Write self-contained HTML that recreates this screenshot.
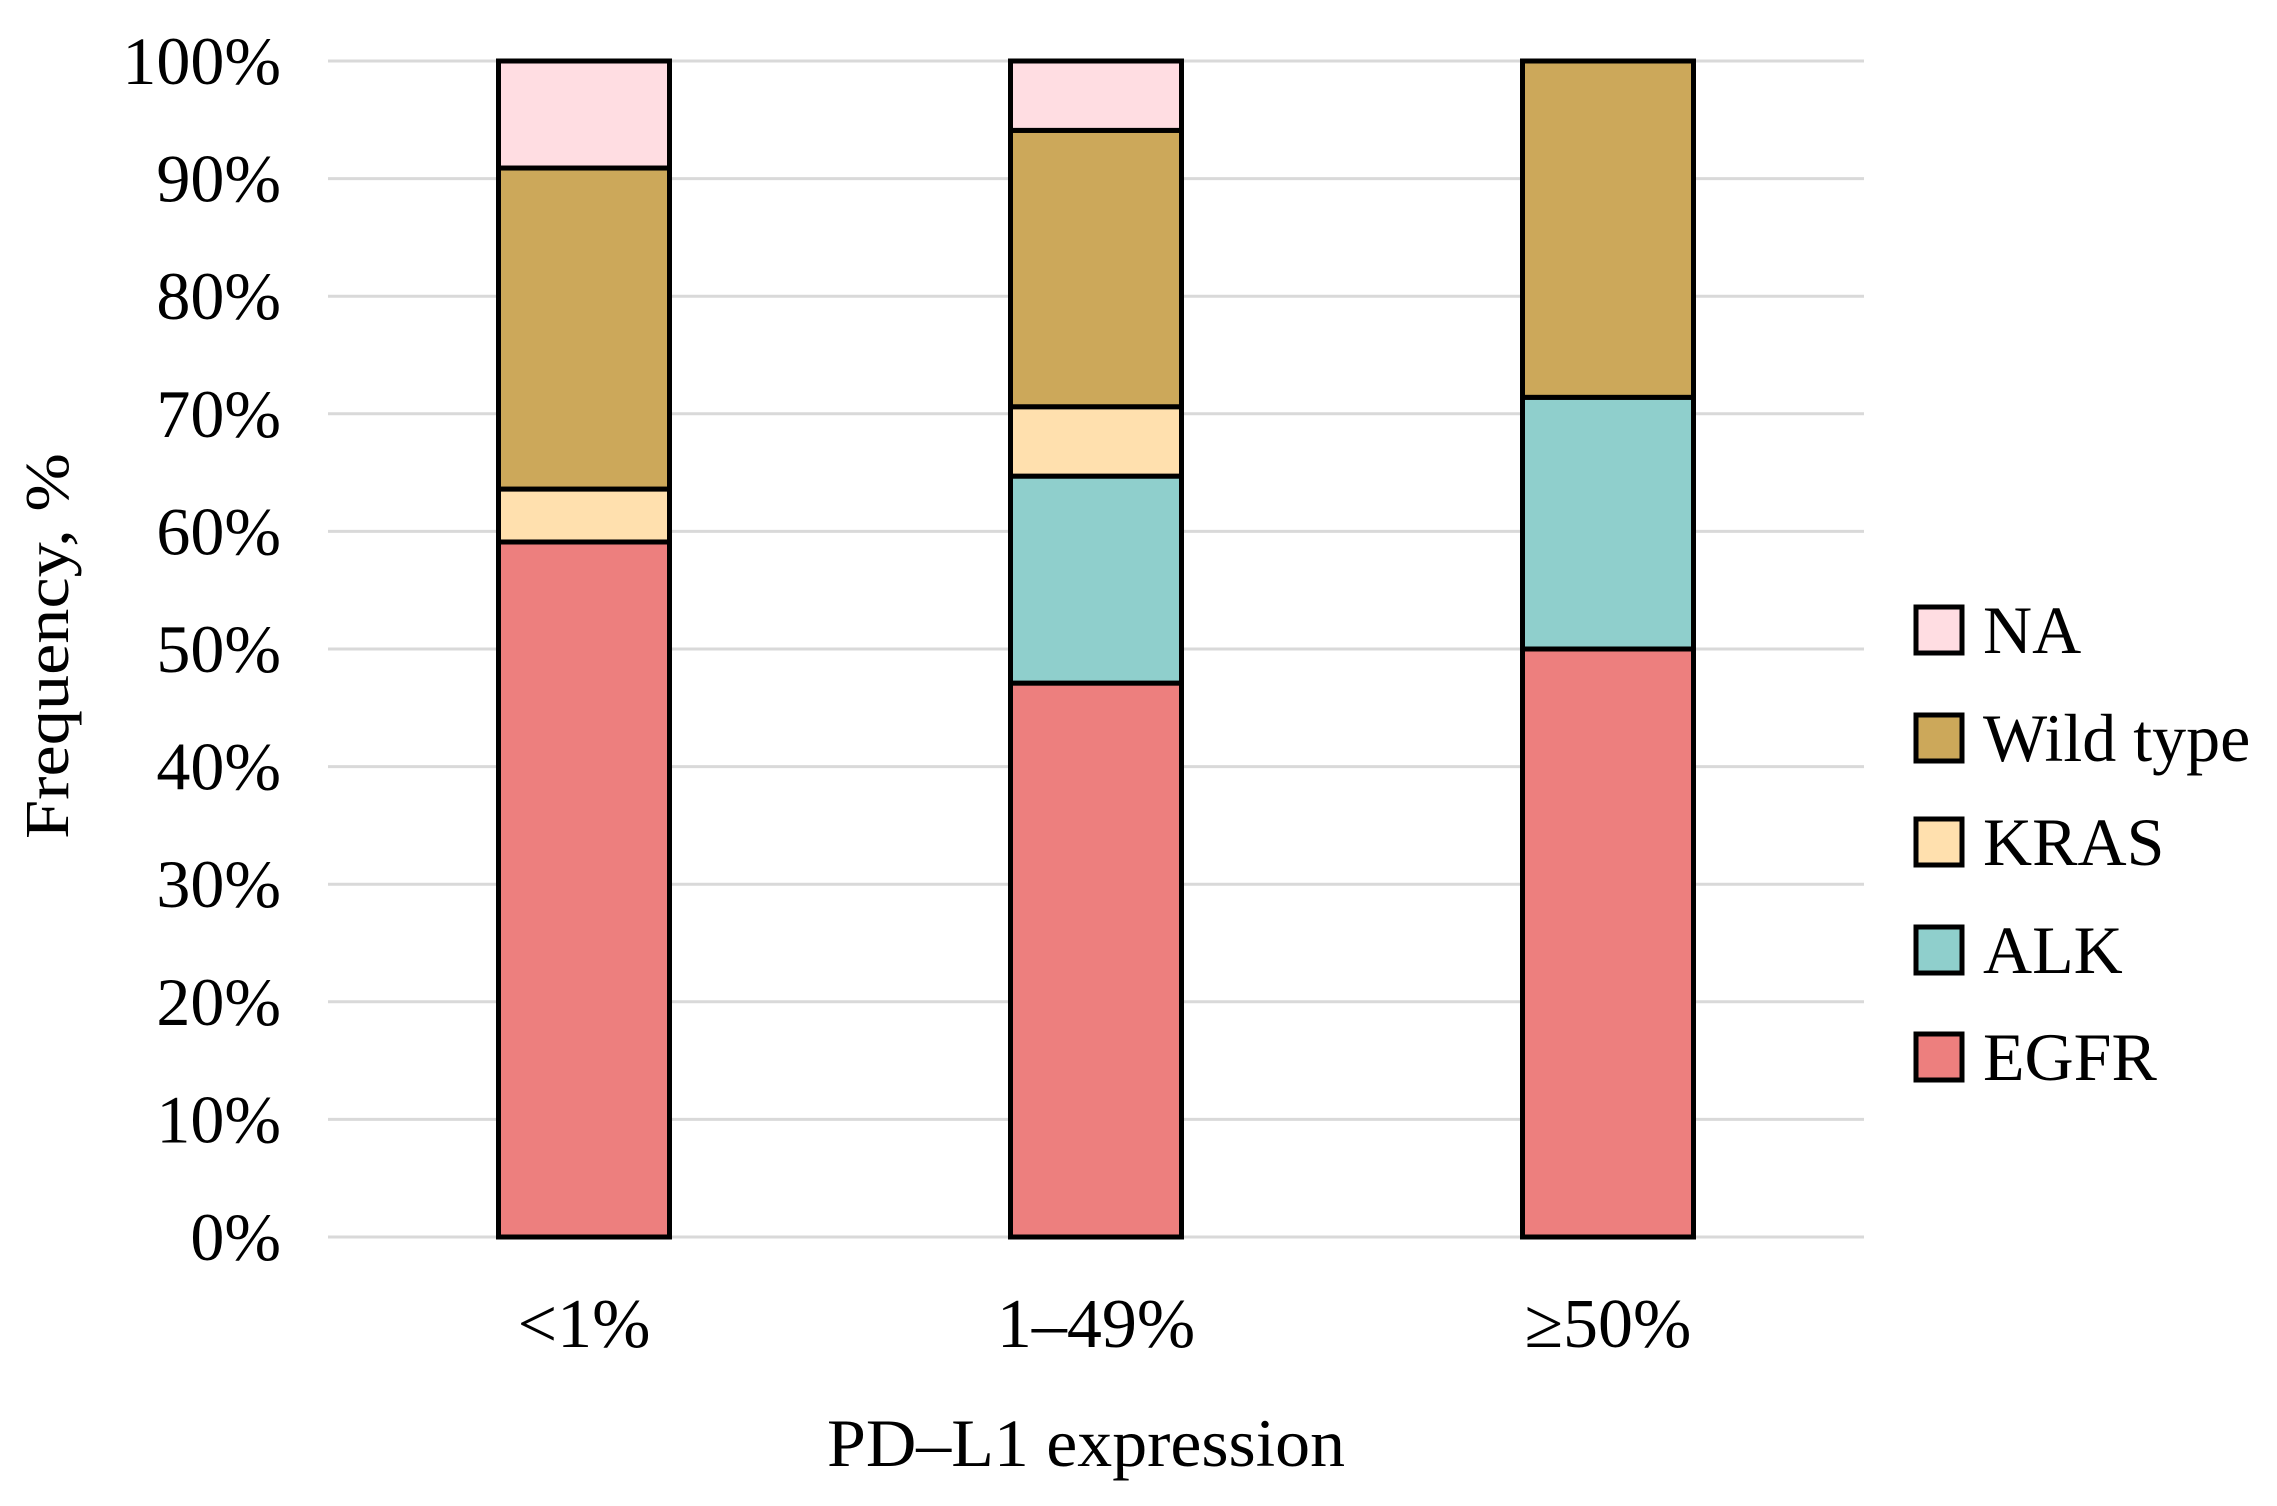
<!DOCTYPE html>
<html><head><meta charset="utf-8"><style>
html,body{margin:0;padding:0;background:#fff}
svg{display:block;font-family:"Liberation Serif",serif}
</style></head><body>
<svg id="chart" width="2277" height="1506" viewBox="0 0 2277 1506">
<g id="grid"></g>
<g id="yticks"></g>
<g id="bars"></g>
<g id="xticks"></g>
<text x="0" y="0" transform="translate(68,646) rotate(-90)" text-anchor="middle" font-size="62" textLength="386" lengthAdjust="spacingAndGlyphs">Frequency, %</text>
<text x="1086" y="1466" text-anchor="middle" font-size="68" textLength="518" lengthAdjust="spacingAndGlyphs">PD–L1 expression</text>
<g id="legend"></g>
</svg>
<script>
const categories = ["<1%", "1–49%", "≥50%"];
const seriesNames = ["EGFR", "ALK", "KRAS", "Wild type", "NA"];
const egfr = [59.1, 47.1, 50.0];
const alk = [0, 17.6, 21.4];
const kras = [4.5, 5.9, 0];
const wildType = [27.3, 23.5, 28.6];
const na = [9.1, 5.9, 0];
const yTicks = [0, 10, 20, 30, 40, 50, 60, 70, 80, 90, 100];

const series = [egfr, alk, kras, wildType, na];
const colors = ["#ED7F7E", "#8FCFCC", "#FFE0AE", "#CCA85A", "#FFDDE2"];
const NS = "http://www.w3.org/2000/svg";
const plotL = 328, plotR = 1864, plotT = 61, plotB = 1237;
const y = v => plotB - (v / 100) * (plotB - plotT);
const band = (plotR - plotL) / categories.length;
const xc = i => plotL + band * (i + 0.5);
const barW = 171;
function mk(tag, attrs, parent) {
  const e = document.createElementNS(NS, tag);
  for (const k in attrs) e.setAttribute(k, attrs[k]);
  parent.appendChild(e);
  return e;
}
const grid = document.getElementById('grid');
const yt = document.getElementById('yticks');
yTicks.forEach(t => {
  const l = mk('line', {x1: plotL, x2: plotR, y1: y(t), y2: y(t), stroke: '#D9D9D9', 'stroke-width': 3}, grid);
  
  
  const tx = mk('text', {x: 281, y: y(t) + 23, 'text-anchor': 'end', 'font-size': 68}, yt);
  tx.textContent = t + '%';
  
  
});
const bars = document.getElementById('bars');
const xt = document.getElementById('xticks');
categories.forEach((c, i) => {
  let base = 0;
  series.forEach((s, j) => {
    const v = s[i];
    if (v <= 0) return;
    const r = mk('rect', {x: xc(i) - barW / 2, y: y(base + v), width: barW, height: y(base) - y(base + v), fill: colors[j], stroke: '#000', 'stroke-width': 5}, bars);
    
    
    base += v;
  });
  const tx = mk('text', {x: xc(i), y: 1347, 'text-anchor': 'middle', 'font-size': 70}, xt);
  tx.textContent = c;
  
  
});
const lg = document.getElementById('legend');
const rowsY = [630, 738, 842, 950, 1057];
for (let k = 0; k < 5; k++) {
  const j = 4 - k;
  const r = mk('rect', {x: 1916, y: rowsY[k] - 23, width: 46, height: 46, fill: colors[j], stroke: '#000', 'stroke-width': 5}, lg);
  
  
  const t = mk('text', {x: 1983, y: rowsY[k] + 23, 'font-size': 68}, lg);
  t.textContent = seriesNames[j];
  
  
}
</script>
</body></html>
